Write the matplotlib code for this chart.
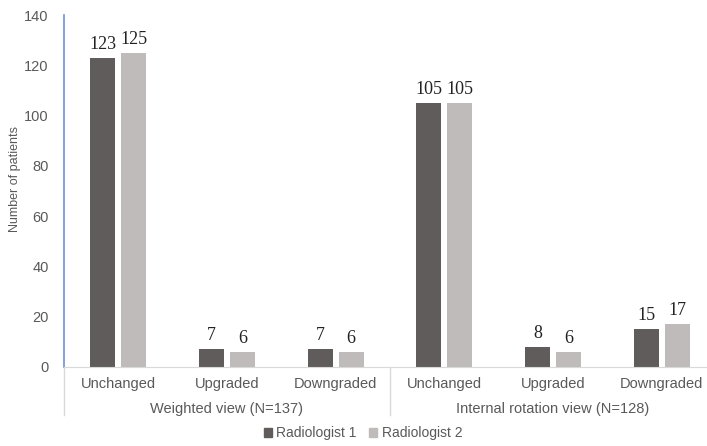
import numpy as np
import matplotlib.pyplot as plt
from matplotlib.patches import Patch

categories = ['Unchanged', 'Upgraded', 'Downgraded', 'Unchanged', 'Upgraded', 'Downgraded']
groups = ['Weighted view (N=137)', 'Internal rotation view (N=128)']
radiologist1 = [123, 7, 7, 105, 8, 15]
radiologist2 = [125, 6, 6, 105, 6, 17]
series_names = ['Radiologist 1', 'Radiologist 2']

c1 = '#605C5B'
c2 = '#BEBBBA'
txt = '#595959'

fig = plt.figure(figsize=(7.07, 4.46), dpi=100)
ax = fig.add_axes([64 / 707, 1 - 367 / 446, (716 - 64) / 707, 352 / 446])

x = np.arange(len(categories))
w = 0.23
off = 0.143
b1 = ax.bar(x - off, radiologist1, w, color=c1)
b2 = ax.bar(x + off, radiologist2, w, color=c2)

for bars in (b1, b2):
    for r in bars:
        ax.text(r.get_x() + r.get_width() / 2, r.get_height() + 2, str(int(r.get_height())),
                ha='center', va='bottom', fontsize=13, family='Liberation Serif', color='#222222')

ax.set_xlim(-0.5, len(categories) - 0.5)
ax.set_ylim(0, 140)
ax.set_yticks(range(0, 141, 20))
ax.set_xticks(x)
ax.set_xticklabels(categories)
ax.tick_params(axis='y', length=0, labelsize=10.5, labelcolor=txt, pad=11)
ax.tick_params(axis='x', length=0, labelsize=10.5, labelcolor=txt, pad=7)
for lab in ax.get_xticklabels() + ax.get_yticklabels():
    lab.set_family('Liberation Sans')

for s in ['top', 'right']:
    ax.spines[s].set_visible(False)
ax.spines['left'].set_color('#6F8FD8')
ax.spines['left'].set_linewidth(1.2)
ax.spines['bottom'].set_color('#D9D9D9')

fig.text(15 / 707, 1 - 179 / 446, 'Number of patients', rotation=90, ha='center', va='center',
         fontsize=9, color=txt, family='Liberation Sans')

tr = ax.get_xaxis_transform()
for i, g in enumerate(groups):
    ax.text(i * 3 + 1, -0.119, g, transform=tr, ha='center', va='center',
            fontsize=10.5, color=txt, family='Liberation Sans')
for xs in [-0.5, 2.5]:
    ax.plot([xs, xs], [0, -0.136], transform=tr, color='#D9D9D9', lw=1, clip_on=False)

handles = [Patch(color=c1), Patch(color=c2)]
fig.legend(handles, series_names, loc='center', bbox_to_anchor=(363 / 707, 1 - 433 / 446),
           ncol=2, frameon=False, handlelength=0.6, handleheight=0.6, handletextpad=0.3,
           columnspacing=0.9, prop={'family': 'Liberation Sans', 'size': 10}, labelcolor=txt)

fig.savefig('out.png', dpi=100)
